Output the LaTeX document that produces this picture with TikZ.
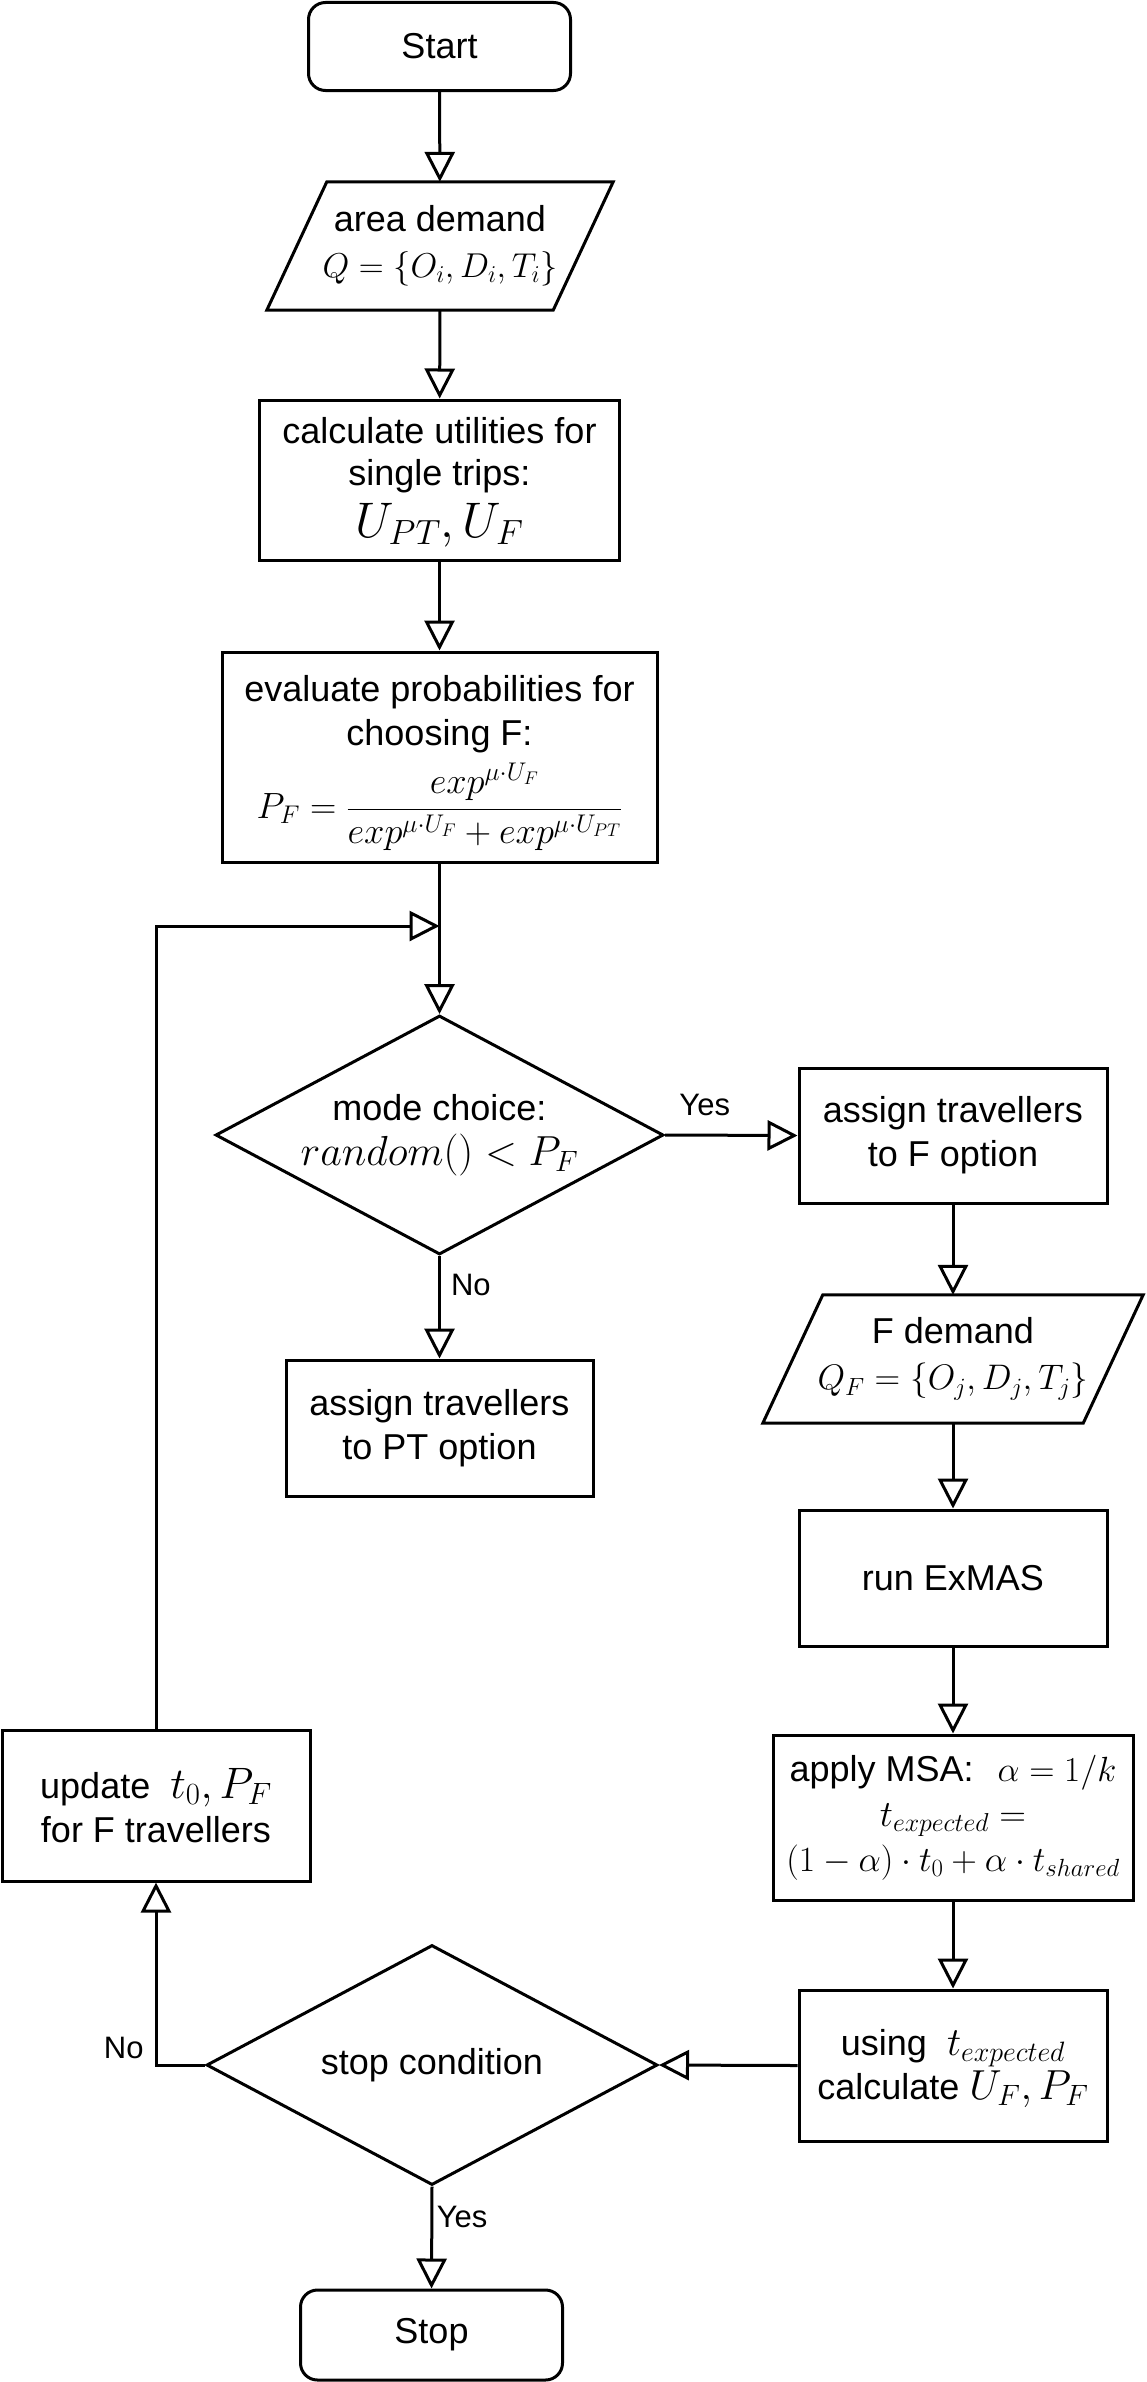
\RequirePackage{fix-cm}
\documentclass[tikz,border=0pt]{standalone}
\usepackage[no-math]{fontspec}
\setmainfont{Liberation Sans}
\usetikzlibrary{arrows.meta,shapes.geometric}
\newcommand{\msz}[2]{{\fontsize{#1}{#1}\selectfont$#2$}}
\tikzset{
  ln/.style={line width=3pt, black, line join=miter},
  arr/.style={ln, -{Triangle[open,length=30pt,width=30pt]}},
  box/.style={draw, line width=3pt, rectangle, inner sep=0pt, align=center, font=\fontsize{36}{44}\selectfont},
  io/.style={rectangle, inner sep=0pt, align=center, font=\fontsize{36}{46}\selectfont},
  dia/.style={draw, line width=3pt, diamond, inner sep=0pt},
  txt/.style={align=center, inner sep=0pt, font=\fontsize{36}{45}\selectfont},
  lbl/.style={font=\fontsize{31}{31}\selectfont, inner sep=0pt},
}
\begin{document}
\begin{tikzpicture}[x=1pt,y=-1pt]
\path[use as bounding box, fill=white] (0,0) rectangle (1146,2382);

% main column
\node[box, rounded corners=17pt, minimum width=262pt, minimum height=88pt] (start) at (439.5,46.5) {Start};
\node[io, minimum width=286pt, minimum height=128pt] (ad) at (440,246)
  {area demand\\\msz{34.5}{Q = \{O_i, D_i, T_i\}}};
\draw[ln] ([xshift=30pt]ad.north west) -- ([xshift=30pt]ad.north east)
  -- ([xshift=-30pt]ad.south east) -- ([xshift=-30pt]ad.south west) -- cycle;
\node[box, minimum width=360pt, minimum height=160pt, font=\fontsize{36}{42}\selectfont] (calc) at (439.5,480)
  {\rule{0pt}{30pt}calculate utilities for\\single trips:\\[10pt]\msz{50}{U_{PT}, U_F}};
\node[box, minimum width=435pt, minimum height=210pt] (eval) at (439.5,757)
  {\rule{0pt}{38pt}evaluate probabilities for\\choosing F:\\[9pt]\msz{36.5}{\displaystyle P_F = \frac{exp^{\mu\cdot U_F}}{exp^{\mu\cdot U_F} + exp^{\mu\cdot U_{PT}}}}};
\coordinate (merge) at (439.5,926);
\node[dia, minimum width=448pt, minimum height=239pt,
  label={[txt]center:{mode choice:\\\msz{42}{random() < P_F}}}] (d1) at (439.5,1135) {};
\node[box, minimum width=307pt, minimum height=136pt] (pt) at (439.5,1428)
  {assign travellers\\to PT option};

% right column
\node[box, minimum width=308pt, minimum height=135pt] (fopt) at (953,1135.5)
  {assign travellers\\to F option};
\node[io, minimum width=320pt, minimum height=128pt] (fdem) at (953,1359)
  {F demand\\\msz{35.5}{Q_F = \{O_j, D_j, T_j\}}};
\draw[ln] ([xshift=30pt]fdem.north west) -- ([xshift=30pt]fdem.north east)
  -- ([xshift=-30pt]fdem.south east) -- ([xshift=-30pt]fdem.south west) -- cycle;
\node[box, minimum width=308pt, minimum height=136pt] (exmas) at (953,1578) {run ExMAS};
\node[box, minimum width=360pt, minimum height=165pt, font=\fontsize{36}{45}\selectfont] (msa) at (953,1817.5)
  {apply MSA:\hspace{24pt}\msz{35}{\alpha = 1/k}\\\msz{37}{t_{expected} =}\\\msz{35.5}{(1-\alpha)\cdot t_0 + \alpha\cdot t_{shared}}};
\node[box, minimum width=308pt, minimum height=151pt] (using) at (953,2065.5)
  {\rule{0pt}{32pt}using\ \ \msz{40}{t_{expected}}\\calculate\ \msz{42}{U_F, P_F}};

% bottom
\node[dia, minimum width=451pt, minimum height=240pt,
  label={[txt]center:{stop condition}}] (d2) at (432,2065) {};
\node[box, minimum width=308pt, minimum height=151pt] (upd) at (156,1805.5)
  {update\ \ \msz{44}{t_0, P_F}\\for F travellers};
\node[box, rounded corners=17pt, minimum width=262pt, minimum height=90pt] (stop) at (431.5,2335) {Stop};

% connectors
\draw[arr] (start) -- (ad);
\draw[arr] (ad) -- (calc);
\draw[arr] (calc) -- (eval);
\draw[arr] (eval) -- (d1.north);
\draw[arr] (d1.east) -- node[lbl, pos=0.3, anchor=base, yshift=20pt] {Yes} (fopt.west);
\draw[arr] (d1.south) -- node[lbl, pos=0.39, anchor=base west, xshift=10pt] {No} (pt.north);
\draw[arr] (fopt) -- (fdem);
\draw[arr] (fdem) -- (exmas);
\draw[arr] (exmas) -- (msa);
\draw[arr] (msa) -- (using);
\draw[arr] (using.west) -- (d2.east);
\draw[arr] (d2.west) -| node[lbl, pos=0.5, anchor=base east, xshift=-11pt, yshift=7pt] {No} (upd.south);
\draw[arr] (upd.north) |- (merge);
\draw[arr] (d2.south) -- node[lbl, pos=0.4, anchor=base west, xshift=3.5pt] {Yes} (stop.north);
\end{tikzpicture}
\end{document}
